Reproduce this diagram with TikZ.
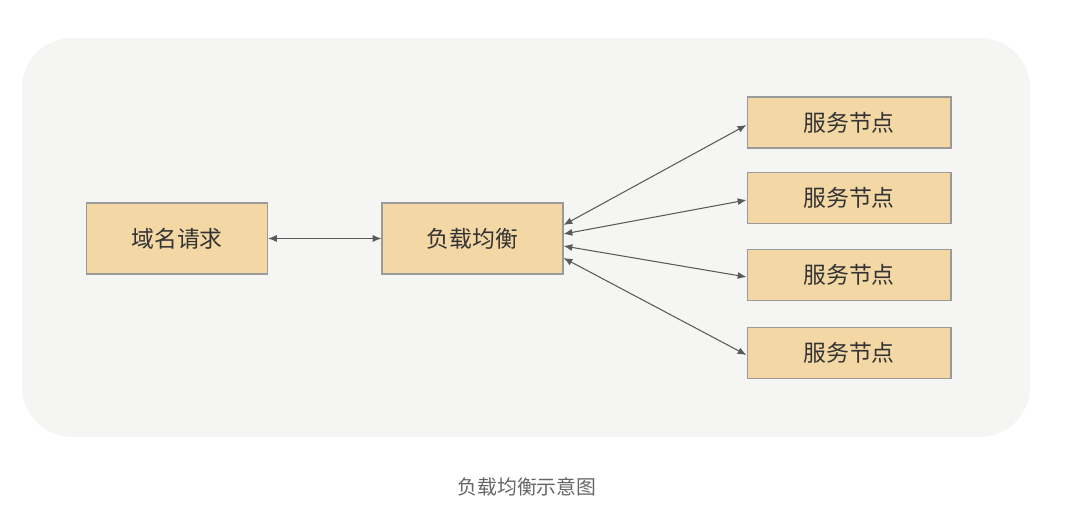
\documentclass[tikz,border=0pt]{standalone}
\usepackage{fontspec}
\setmainfont{Noto Sans CJK SC}
\usetikzlibrary{arrows.meta}
\definecolor{panelbg}{HTML}{F5F5F3}
\definecolor{boxfill}{HTML}{F3D8A6}
\definecolor{boxline}{HTML}{9A9A9A}
\definecolor{linkgray}{HTML}{5A5A5A}
\definecolor{textdark}{HTML}{333333}
\definecolor{captiongray}{HTML}{666666}
\begin{document}
\begin{tikzpicture}[x=0.02cm,y=-0.02cm,
  block/.style={draw=boxline,fill=boxfill,line width=0.6pt,text=textdark,
    font=\fontsize{13}{15}\selectfont,inner sep=0pt},
  lb/.style={block,minimum width=3.62cm,minimum height=1.42cm},
  srv/.style={block,minimum width=4.08cm,minimum height=1.02cm},
  link/.style={linkgray,line width=0.6pt,{Latex[length=5pt,width=4pt]}-{Latex[length=5pt,width=4pt]}}]
\useasboundingbox (0,0) rectangle (1081,519);
\fill[panelbg,rounded corners=1cm] (22,38) rectangle (1030,437);
% left side
\node[lb] (req) at (177,238.5) {域名请求};
\node[lb] (bal) at (472.5,238.5) {负载均衡};
% service nodes
\node[srv] (s1) at (849,122.5) {服务节点};
\node[srv] (s2) at (849,198) {服务节点};
\node[srv] (s3) at (849,275) {服务节点};
\node[srv] (s4) at (849,353) {服务节点};
\draw[link] (req) -- (bal);
\draw[link] ([yshift=0.27cm]bal.east) -- ([yshift=-0.05cm]s1.west);
\draw[link] ([yshift=0.09cm]bal.east) -- ([yshift=-0.04cm]s2.west);
\draw[link] ([yshift=-0.15cm]bal.east) -- ([yshift=-0.04cm]s3.west);
\draw[link] ([yshift=-0.39cm]bal.east) -- ([yshift=-0.04cm]s4.west);
\node[text=captiongray,font=\fontsize{11.3}{13}\selectfont] (cap) at (527,487) {负载均衡示意图};
\end{tikzpicture}
\end{document}
